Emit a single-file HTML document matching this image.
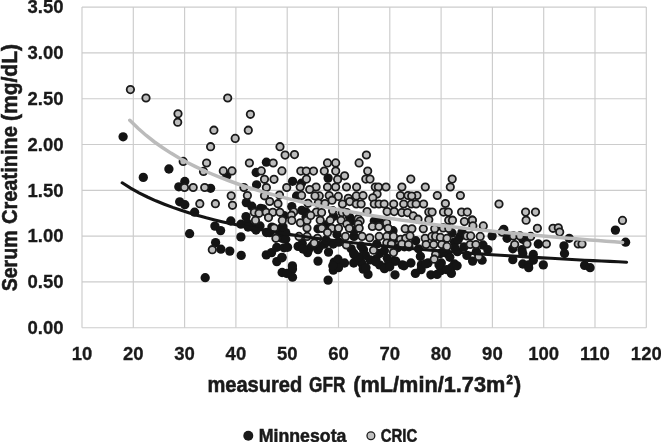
<!DOCTYPE html>
<html><head><meta charset="utf-8"><style>
html,body{margin:0;padding:0;background:#fff;}
svg{display:block;filter:blur(0.35px);}
.g{stroke:#cccccc;stroke-width:1.15;}
.t{font-family:"Liberation Sans",sans-serif;font-weight:bold;font-size:18.5px;fill:#1a1a1a;stroke:#1a1a1a;stroke-width:0.3px;}
.tl{font-family:"Liberation Sans",sans-serif;font-weight:bold;font-size:17.5px;fill:#1a1a1a;stroke:#1a1a1a;stroke-width:0.5px;}
.ti{font-family:"Liberation Sans",sans-serif;font-weight:bold;font-size:21.5px;fill:#1a1a1a;stroke:#1a1a1a;stroke-width:0.55px;}
.b circle{fill:#141414;}
.c circle{fill:#bdbdbd;stroke:#1a1a1a;stroke-width:1.8;}
</style></head><body>
<svg width="661" height="442" viewBox="0 0 661 442">
<line x1="82.0" y1="7.1" x2="82.0" y2="327.7" class="g"/>
<line x1="133.3" y1="7.1" x2="133.3" y2="327.7" class="g"/>
<line x1="184.6" y1="7.1" x2="184.6" y2="327.7" class="g"/>
<line x1="235.9" y1="7.1" x2="235.9" y2="327.7" class="g"/>
<line x1="287.2" y1="7.1" x2="287.2" y2="327.7" class="g"/>
<line x1="338.5" y1="7.1" x2="338.5" y2="327.7" class="g"/>
<line x1="389.8" y1="7.1" x2="389.8" y2="327.7" class="g"/>
<line x1="441.1" y1="7.1" x2="441.1" y2="327.7" class="g"/>
<line x1="492.4" y1="7.1" x2="492.4" y2="327.7" class="g"/>
<line x1="543.7" y1="7.1" x2="543.7" y2="327.7" class="g"/>
<line x1="595.0" y1="7.1" x2="595.0" y2="327.7" class="g"/>
<line x1="646.3" y1="7.1" x2="646.3" y2="327.7" class="g"/>
<line x1="82.0" y1="327.7" x2="646.3" y2="327.7" class="g"/>
<line x1="82.0" y1="281.9" x2="646.3" y2="281.9" class="g"/>
<line x1="82.0" y1="236.1" x2="646.3" y2="236.1" class="g"/>
<line x1="82.0" y1="190.3" x2="646.3" y2="190.3" class="g"/>
<line x1="82.0" y1="144.5" x2="646.3" y2="144.5" class="g"/>
<line x1="82.0" y1="98.7" x2="646.3" y2="98.7" class="g"/>
<line x1="82.0" y1="52.9" x2="646.3" y2="52.9" class="g"/>
<line x1="82.0" y1="7.1" x2="646.3" y2="7.1" class="g"/>
<text x="63.5" y="334.0" class="t" text-anchor="end">0.00</text>
<text x="63.5" y="288.2" class="t" text-anchor="end">0.50</text>
<text x="63.5" y="242.4" class="t" text-anchor="end">1.00</text>
<text x="63.5" y="196.6" class="t" text-anchor="end">1.50</text>
<text x="63.5" y="150.8" class="t" text-anchor="end">2.00</text>
<text x="63.5" y="105.0" class="t" text-anchor="end">2.50</text>
<text x="63.5" y="59.2" class="t" text-anchor="end">3.00</text>
<text x="63.5" y="13.4" class="t" text-anchor="end">3.50</text>
<text x="82.0" y="359.8" class="t" text-anchor="middle">10</text>
<text x="133.3" y="359.8" class="t" text-anchor="middle">20</text>
<text x="184.6" y="359.8" class="t" text-anchor="middle">30</text>
<text x="235.9" y="359.8" class="t" text-anchor="middle">40</text>
<text x="287.2" y="359.8" class="t" text-anchor="middle">50</text>
<text x="338.5" y="359.8" class="t" text-anchor="middle">60</text>
<text x="389.8" y="359.8" class="t" text-anchor="middle">70</text>
<text x="441.1" y="359.8" class="t" text-anchor="middle">80</text>
<text x="492.4" y="359.8" class="t" text-anchor="middle">90</text>
<text x="543.7" y="359.8" class="t" text-anchor="middle">100</text>
<text x="595.0" y="359.8" class="t" text-anchor="middle">110</text>
<text x="646.3" y="359.8" class="t" text-anchor="middle">120</text>
<g class="b"><circle cx="123.1" cy="136.8" r="4.65"/><circle cx="168.9" cy="169.0" r="4.65"/><circle cx="143.3" cy="177.4" r="4.65"/><circle cx="184.8" cy="181.5" r="4.65"/><circle cx="178.8" cy="186.8" r="4.65"/><circle cx="179.7" cy="201.8" r="4.65"/><circle cx="184.8" cy="204.7" r="4.65"/><circle cx="266.4" cy="162.2" r="4.65"/><circle cx="256.2" cy="172.5" r="4.65"/><circle cx="226.8" cy="175.7" r="4.65"/><circle cx="256.6" cy="184.8" r="4.65"/><circle cx="210.6" cy="188.3" r="4.65"/><circle cx="246.3" cy="202.6" r="4.65"/><circle cx="251.8" cy="206.2" r="4.65"/><circle cx="262.9" cy="208.9" r="4.65"/><circle cx="292.6" cy="181.3" r="4.65"/><circle cx="328.1" cy="178.1" r="4.65"/><circle cx="301.5" cy="183.2" r="4.65"/><circle cx="296.6" cy="196.0" r="4.65"/><circle cx="194.6" cy="212.2" r="4.65"/><circle cx="214.9" cy="226.1" r="4.65"/><circle cx="220.6" cy="230.6" r="4.65"/><circle cx="189.6" cy="233.7" r="4.65"/><circle cx="230.8" cy="221.0" r="4.65"/><circle cx="240.9" cy="224.2" r="4.65"/><circle cx="246.0" cy="216.6" r="4.65"/><circle cx="240.9" cy="236.9" r="4.65"/><circle cx="215.6" cy="242.6" r="4.65"/><circle cx="247.2" cy="223.0" r="4.65"/><circle cx="291.8" cy="206.6" r="4.65"/><circle cx="260.5" cy="208.5" r="4.65"/><circle cx="301.8" cy="210.4" r="4.65"/><circle cx="284.2" cy="215.7" r="4.65"/><circle cx="252.9" cy="227.1" r="4.65"/><circle cx="271.9" cy="227.1" r="4.65"/><circle cx="281.4" cy="228.0" r="4.65"/><circle cx="256.0" cy="230.0" r="4.65"/><circle cx="260.0" cy="226.0" r="4.65"/><circle cx="306.0" cy="212.0" r="4.65"/><circle cx="306.0" cy="217.0" r="4.65"/><circle cx="333.5" cy="216.4" r="4.65"/><circle cx="349.7" cy="217.3" r="4.65"/><circle cx="352.5" cy="221.1" r="4.65"/><circle cx="326.0" cy="225.0" r="4.65"/><circle cx="374.3" cy="221.1" r="4.65"/><circle cx="379.0" cy="221.1" r="4.65"/><circle cx="383.0" cy="224.0" r="4.65"/><circle cx="569.2" cy="238.3" r="4.65"/><circle cx="526.0" cy="239.2" r="4.65"/><circle cx="538.3" cy="244.0" r="4.65"/><circle cx="564.0" cy="245.9" r="4.65"/><circle cx="615.4" cy="230.1" r="4.65"/><circle cx="625.6" cy="242.2" r="4.65"/><circle cx="220.9" cy="249.2" r="4.65"/><circle cx="229.8" cy="251.1" r="4.65"/><circle cx="241.2" cy="255.4" r="4.65"/><circle cx="266.3" cy="254.9" r="4.65"/><circle cx="271.6" cy="252.6" r="4.65"/><circle cx="276.8" cy="247.3" r="4.65"/><circle cx="276.8" cy="261.6" r="4.65"/><circle cx="282.0" cy="257.8" r="4.65"/><circle cx="269.7" cy="232.6" r="4.65"/><circle cx="280.1" cy="232.6" r="4.65"/><circle cx="282.0" cy="238.3" r="4.65"/><circle cx="284.0" cy="247.8" r="4.65"/><circle cx="248.0" cy="227.0" r="4.65"/><circle cx="285.7" cy="232.6" r="4.65"/><circle cx="285.7" cy="239.3" r="4.65"/><circle cx="287.6" cy="247.3" r="4.65"/><circle cx="298.1" cy="246.4" r="4.65"/><circle cx="302.3" cy="243.5" r="4.65"/><circle cx="307.6" cy="252.6" r="4.65"/><circle cx="318.0" cy="249.7" r="4.65"/><circle cx="328.5" cy="252.1" r="4.65"/><circle cx="324.7" cy="244.0" r="4.65"/><circle cx="333.2" cy="244.0" r="4.65"/><circle cx="318.0" cy="261.1" r="4.65"/><circle cx="281.9" cy="257.3" r="4.65"/><circle cx="292.4" cy="265.9" r="4.65"/><circle cx="334.2" cy="262.1" r="4.65"/><circle cx="338.0" cy="259.2" r="4.65"/><circle cx="282.9" cy="226.9" r="4.65"/><circle cx="318.0" cy="228.8" r="4.65"/><circle cx="337.0" cy="234.5" r="4.65"/><circle cx="338.8" cy="242.1" r="4.65"/><circle cx="354.0" cy="236.4" r="4.65"/><circle cx="351.2" cy="248.8" r="4.65"/><circle cx="354.0" cy="254.5" r="4.65"/><circle cx="337.9" cy="261.1" r="4.65"/><circle cx="344.5" cy="263.0" r="4.65"/><circle cx="356.9" cy="259.2" r="4.65"/><circle cx="363.5" cy="249.7" r="4.65"/><circle cx="365.4" cy="255.4" r="4.65"/><circle cx="361.6" cy="263.0" r="4.65"/><circle cx="376.8" cy="244.0" r="4.65"/><circle cx="379.7" cy="253.5" r="4.65"/><circle cx="375.9" cy="259.2" r="4.65"/><circle cx="379.7" cy="264.9" r="4.65"/><circle cx="384.4" cy="250.7" r="4.65"/><circle cx="387.3" cy="258.3" r="4.65"/><circle cx="388.2" cy="264.9" r="4.65"/><circle cx="394.0" cy="261.1" r="4.65"/><circle cx="393.0" cy="230.7" r="4.65"/><circle cx="354.0" cy="230.7" r="4.65"/><circle cx="415.7" cy="240.7" r="4.65"/><circle cx="395.7" cy="261.1" r="4.65"/><circle cx="402.4" cy="264.9" r="4.65"/><circle cx="410.9" cy="263.0" r="4.65"/><circle cx="418.5" cy="248.8" r="4.65"/><circle cx="420.4" cy="256.4" r="4.65"/><circle cx="421.4" cy="264.9" r="4.65"/><circle cx="428.0" cy="263.0" r="4.65"/><circle cx="440.4" cy="253.5" r="4.65"/><circle cx="441.3" cy="263.0" r="4.65"/><circle cx="447.0" cy="253.5" r="4.65"/><circle cx="409.0" cy="246.8" r="4.65"/><circle cx="404.3" cy="246.8" r="4.65"/><circle cx="397.6" cy="247.8" r="4.65"/><circle cx="392.9" cy="240.2" r="4.65"/><circle cx="492.1" cy="235.9" r="4.65"/><circle cx="460.2" cy="236.4" r="4.65"/><circle cx="454.5" cy="242.1" r="4.65"/><circle cx="464.0" cy="246.9" r="4.65"/><circle cx="483.0" cy="245.0" r="4.65"/><circle cx="487.8" cy="249.7" r="4.65"/><circle cx="466.9" cy="255.4" r="4.65"/><circle cx="472.6" cy="261.1" r="4.65"/><circle cx="482.1" cy="260.2" r="4.65"/><circle cx="454.5" cy="264.0" r="4.65"/><circle cx="449.8" cy="257.3" r="4.65"/><circle cx="457.4" cy="251.6" r="4.65"/><circle cx="476.4" cy="251.6" r="4.65"/><circle cx="503.8" cy="229.3" r="4.65"/><circle cx="507.1" cy="238.3" r="4.65"/><circle cx="522.8" cy="239.3" r="4.65"/><circle cx="512.8" cy="248.8" r="4.65"/><circle cx="521.9" cy="249.7" r="4.65"/><circle cx="522.8" cy="253.5" r="4.65"/><circle cx="533.3" cy="254.5" r="4.65"/><circle cx="512.8" cy="259.7" r="4.65"/><circle cx="533.3" cy="260.2" r="4.65"/><circle cx="522.8" cy="264.0" r="4.65"/><circle cx="528.5" cy="264.9" r="4.65"/><circle cx="543.3" cy="264.9" r="4.65"/><circle cx="564.5" cy="253.5" r="4.65"/><circle cx="584.6" cy="265.4" r="4.65"/><circle cx="590.1" cy="267.7" r="4.65"/><circle cx="205.2" cy="277.7" r="4.65"/><circle cx="282.1" cy="272.5" r="4.65"/><circle cx="292.5" cy="269.1" r="4.65"/><circle cx="292.5" cy="277.2" r="4.65"/><circle cx="286.8" cy="273.4" r="4.65"/><circle cx="333.3" cy="270.1" r="4.65"/><circle cx="338.5" cy="267.7" r="4.65"/><circle cx="332.8" cy="265.8" r="4.65"/><circle cx="353.7" cy="263.0" r="4.65"/><circle cx="328.1" cy="280.1" r="4.65"/><circle cx="363.2" cy="269.1" r="4.65"/><circle cx="368.0" cy="274.4" r="4.65"/><circle cx="384.5" cy="268.7" r="4.65"/><circle cx="389.7" cy="266.8" r="4.65"/><circle cx="395.0" cy="274.8" r="4.65"/><circle cx="404.0" cy="265.8" r="4.65"/><circle cx="415.4" cy="273.4" r="4.65"/><circle cx="421.1" cy="269.6" r="4.65"/><circle cx="366.0" cy="267.7" r="4.65"/><circle cx="430.9" cy="274.8" r="4.65"/><circle cx="437.1" cy="274.4" r="4.65"/><circle cx="440.9" cy="270.6" r="4.65"/><circle cx="439.0" cy="264.9" r="4.65"/><circle cx="451.4" cy="273.4" r="4.65"/><circle cx="451.4" cy="267.7" r="4.65"/><circle cx="457.1" cy="265.8" r="4.65"/><circle cx="446.6" cy="269.6" r="4.65"/><circle cx="425.7" cy="263.9" r="4.65"/><circle cx="528.7" cy="267.7" r="4.65"/><circle cx="309.0" cy="249.0" r="4.65"/><circle cx="320.0" cy="246.0" r="4.65"/><circle cx="303.0" cy="249.0" r="4.65"/><circle cx="326.0" cy="240.0" r="4.65"/><circle cx="312.0" cy="246.0" r="4.65"/><circle cx="452.0" cy="233.0" r="4.65"/><circle cx="458.0" cy="240.0" r="4.65"/><circle cx="455.0" cy="248.0" r="4.65"/><circle cx="462.0" cy="232.0" r="4.65"/><circle cx="444.0" cy="245.0" r="4.65"/><circle cx="443.0" cy="252.0" r="4.65"/><circle cx="358.5" cy="257.0" r="4.65"/><circle cx="370.0" cy="259.9" r="4.65"/><circle cx="353.8" cy="253.2" r="4.65"/><circle cx="375.6" cy="261.8" r="4.65"/><circle cx="361.0" cy="246.0" r="4.65"/><circle cx="266.5" cy="232.5" r="4.65"/></g>
<g class="c"><circle cx="130.4" cy="89.6" r="3.7"/><circle cx="146.0" cy="98.0" r="3.7"/><circle cx="178.0" cy="113.8" r="3.7"/><circle cx="177.7" cy="122.2" r="3.7"/><circle cx="227.7" cy="98.0" r="3.7"/><circle cx="250.4" cy="114.3" r="3.7"/><circle cx="213.9" cy="130.2" r="3.7"/><circle cx="248.3" cy="130.2" r="3.7"/><circle cx="235.2" cy="138.4" r="3.7"/><circle cx="183.2" cy="161.4" r="3.7"/><circle cx="184.5" cy="187.5" r="3.7"/><circle cx="193.2" cy="187.5" r="3.7"/><circle cx="210.6" cy="146.7" r="3.7"/><circle cx="280.0" cy="146.7" r="3.7"/><circle cx="285.1" cy="155.1" r="3.7"/><circle cx="206.6" cy="163.0" r="3.7"/><circle cx="249.4" cy="163.0" r="3.7"/><circle cx="273.2" cy="163.0" r="3.7"/><circle cx="203.5" cy="171.4" r="3.7"/><circle cx="223.3" cy="170.9" r="3.7"/><circle cx="232.0" cy="170.9" r="3.7"/><circle cx="261.3" cy="170.9" r="3.7"/><circle cx="281.9" cy="170.9" r="3.7"/><circle cx="264.5" cy="179.3" r="3.7"/><circle cx="274.0" cy="179.3" r="3.7"/><circle cx="204.7" cy="187.5" r="3.7"/><circle cx="243.9" cy="187.5" r="3.7"/><circle cx="266.4" cy="187.5" r="3.7"/><circle cx="286.7" cy="187.5" r="3.7"/><circle cx="231.2" cy="195.8" r="3.7"/><circle cx="247.4" cy="195.5" r="3.7"/><circle cx="264.5" cy="195.8" r="3.7"/><circle cx="279.5" cy="195.1" r="3.7"/><circle cx="199.8" cy="203.7" r="3.7"/><circle cx="215.4" cy="203.7" r="3.7"/><circle cx="232.5" cy="205.3" r="3.7"/><circle cx="269.7" cy="201.5" r="3.7"/><circle cx="278.0" cy="203.7" r="3.7"/><circle cx="294.5" cy="154.6" r="3.7"/><circle cx="327.5" cy="162.9" r="3.7"/><circle cx="335.7" cy="162.9" r="3.7"/><circle cx="359.1" cy="162.9" r="3.7"/><circle cx="300.8" cy="171.1" r="3.7"/><circle cx="306.3" cy="171.1" r="3.7"/><circle cx="313.5" cy="171.1" r="3.7"/><circle cx="324.3" cy="171.1" r="3.7"/><circle cx="335.7" cy="171.1" r="3.7"/><circle cx="306.5" cy="179.1" r="3.7"/><circle cx="337.6" cy="179.4" r="3.7"/><circle cx="344.6" cy="175.8" r="3.7"/><circle cx="300.2" cy="187.0" r="3.7"/><circle cx="316.1" cy="187.0" r="3.7"/><circle cx="327.5" cy="187.0" r="3.7"/><circle cx="335.7" cy="187.0" r="3.7"/><circle cx="346.5" cy="187.0" r="3.7"/><circle cx="356.6" cy="187.0" r="3.7"/><circle cx="309.7" cy="189.5" r="3.7"/><circle cx="301.6" cy="195.4" r="3.7"/><circle cx="366.4" cy="155.0" r="3.7"/><circle cx="367.7" cy="171.1" r="3.7"/><circle cx="365.8" cy="179.1" r="3.7"/><circle cx="370.0" cy="179.1" r="3.7"/><circle cx="410.8" cy="179.1" r="3.7"/><circle cx="375.3" cy="187.0" r="3.7"/><circle cx="378.4" cy="187.0" r="3.7"/><circle cx="386.0" cy="187.0" r="3.7"/><circle cx="401.9" cy="187.0" r="3.7"/><circle cx="425.3" cy="187.0" r="3.7"/><circle cx="452.2" cy="179.1" r="3.7"/><circle cx="450.3" cy="187.0" r="3.7"/><circle cx="308.0" cy="203.3" r="3.7"/><circle cx="254.3" cy="212.3" r="3.7"/><circle cx="259.0" cy="213.3" r="3.7"/><circle cx="266.2" cy="212.3" r="3.7"/><circle cx="272.8" cy="212.3" r="3.7"/><circle cx="279.9" cy="212.3" r="3.7"/><circle cx="268.5" cy="217.6" r="3.7"/><circle cx="293.7" cy="211.9" r="3.7"/><circle cx="291.4" cy="215.2" r="3.7"/><circle cx="255.5" cy="220.4" r="3.7"/><circle cx="282.3" cy="220.4" r="3.7"/><circle cx="291.8" cy="220.4" r="3.7"/><circle cx="300.4" cy="222.8" r="3.7"/><circle cx="307.0" cy="220.4" r="3.7"/><circle cx="274.2" cy="228.0" r="3.7"/><circle cx="307.0" cy="228.0" r="3.7"/><circle cx="319.3" cy="195.9" r="3.7"/><circle cx="315.0" cy="195.9" r="3.7"/><circle cx="329.2" cy="195.5" r="3.7"/><circle cx="338.3" cy="196.4" r="3.7"/><circle cx="348.3" cy="198.3" r="3.7"/><circle cx="356.3" cy="195.9" r="3.7"/><circle cx="363.0" cy="195.5" r="3.7"/><circle cx="332.1" cy="200.2" r="3.7"/><circle cx="342.5" cy="204.0" r="3.7"/><circle cx="349.7" cy="201.6" r="3.7"/><circle cx="356.3" cy="204.0" r="3.7"/><circle cx="361.1" cy="204.0" r="3.7"/><circle cx="318.3" cy="203.1" r="3.7"/><circle cx="325.0" cy="203.5" r="3.7"/><circle cx="316.4" cy="212.1" r="3.7"/><circle cx="321.6" cy="212.6" r="3.7"/><circle cx="310.7" cy="215.4" r="3.7"/><circle cx="332.6" cy="210.7" r="3.7"/><circle cx="342.1" cy="212.6" r="3.7"/><circle cx="346.8" cy="212.6" r="3.7"/><circle cx="320.2" cy="220.2" r="3.7"/><circle cx="330.2" cy="220.2" r="3.7"/><circle cx="341.1" cy="220.2" r="3.7"/><circle cx="358.2" cy="218.7" r="3.7"/><circle cx="360.1" cy="221.1" r="3.7"/><circle cx="346.8" cy="224.0" r="3.7"/><circle cx="358.2" cy="224.0" r="3.7"/><circle cx="377.1" cy="194.0" r="3.7"/><circle cx="372.8" cy="197.8" r="3.7"/><circle cx="400.4" cy="195.5" r="3.7"/><circle cx="408.0" cy="195.5" r="3.7"/><circle cx="417.0" cy="195.5" r="3.7"/><circle cx="374.3" cy="204.0" r="3.7"/><circle cx="379.0" cy="204.0" r="3.7"/><circle cx="384.2" cy="204.0" r="3.7"/><circle cx="393.7" cy="204.0" r="3.7"/><circle cx="403.7" cy="204.0" r="3.7"/><circle cx="411.3" cy="204.0" r="3.7"/><circle cx="416.1" cy="204.0" r="3.7"/><circle cx="367.1" cy="211.6" r="3.7"/><circle cx="387.1" cy="211.6" r="3.7"/><circle cx="394.2" cy="211.6" r="3.7"/><circle cx="401.8" cy="212.6" r="3.7"/><circle cx="407.5" cy="212.6" r="3.7"/><circle cx="413.2" cy="215.9" r="3.7"/><circle cx="372.4" cy="226.5" r="3.7"/><circle cx="379.0" cy="226.5" r="3.7"/><circle cx="386.6" cy="223.0" r="3.7"/><circle cx="437.3" cy="195.5" r="3.7"/><circle cx="460.4" cy="195.5" r="3.7"/><circle cx="423.6" cy="204.0" r="3.7"/><circle cx="445.4" cy="203.5" r="3.7"/><circle cx="428.8" cy="212.1" r="3.7"/><circle cx="432.1" cy="212.1" r="3.7"/><circle cx="443.5" cy="212.1" r="3.7"/><circle cx="448.3" cy="212.1" r="3.7"/><circle cx="461.6" cy="212.1" r="3.7"/><circle cx="467.3" cy="212.1" r="3.7"/><circle cx="428.8" cy="219.7" r="3.7"/><circle cx="448.7" cy="220.2" r="3.7"/><circle cx="452.5" cy="220.2" r="3.7"/><circle cx="418.0" cy="219.2" r="3.7"/><circle cx="464.4" cy="221.6" r="3.7"/><circle cx="472.0" cy="220.2" r="3.7"/><circle cx="499.0" cy="204.0" r="3.7"/><circle cx="525.6" cy="212.1" r="3.7"/><circle cx="526.1" cy="220.2" r="3.7"/><circle cx="472.4" cy="220.2" r="3.7"/><circle cx="483.3" cy="225.9" r="3.7"/><circle cx="472.9" cy="225.9" r="3.7"/><circle cx="535.5" cy="212.1" r="3.7"/><circle cx="537.4" cy="228.3" r="3.7"/><circle cx="553.0" cy="228.3" r="3.7"/><circle cx="558.3" cy="227.8" r="3.7"/><circle cx="559.7" cy="232.1" r="3.7"/><circle cx="530.7" cy="236.4" r="3.7"/><circle cx="546.4" cy="244.0" r="3.7"/><circle cx="527.0" cy="244.0" r="3.7"/><circle cx="578.2" cy="244.0" r="3.7"/><circle cx="582.0" cy="244.0" r="3.7"/><circle cx="622.5" cy="220.4" r="3.7"/><circle cx="212.3" cy="249.7" r="3.7"/><circle cx="275.9" cy="238.3" r="3.7"/><circle cx="321.8" cy="228.3" r="3.7"/><circle cx="331.8" cy="228.3" r="3.7"/><circle cx="338.5" cy="228.3" r="3.7"/><circle cx="327.5" cy="232.6" r="3.7"/><circle cx="299.0" cy="236.4" r="3.7"/><circle cx="307.1" cy="236.4" r="3.7"/><circle cx="317.5" cy="238.3" r="3.7"/><circle cx="314.2" cy="243.1" r="3.7"/><circle cx="349.3" cy="228.3" r="3.7"/><circle cx="359.2" cy="228.3" r="3.7"/><circle cx="388.2" cy="228.3" r="3.7"/><circle cx="345.5" cy="236.4" r="3.7"/><circle cx="362.1" cy="236.4" r="3.7"/><circle cx="369.7" cy="237.8" r="3.7"/><circle cx="379.2" cy="236.4" r="3.7"/><circle cx="386.8" cy="236.4" r="3.7"/><circle cx="393.5" cy="236.4" r="3.7"/><circle cx="346.4" cy="245.0" r="3.7"/><circle cx="373.5" cy="250.2" r="3.7"/><circle cx="386.8" cy="243.1" r="3.7"/><circle cx="391.6" cy="244.0" r="3.7"/><circle cx="393.5" cy="252.6" r="3.7"/><circle cx="405.2" cy="228.8" r="3.7"/><circle cx="411.9" cy="228.8" r="3.7"/><circle cx="423.3" cy="228.8" r="3.7"/><circle cx="434.7" cy="228.8" r="3.7"/><circle cx="443.2" cy="227.9" r="3.7"/><circle cx="400.5" cy="239.3" r="3.7"/><circle cx="405.7" cy="238.3" r="3.7"/><circle cx="410.0" cy="235.9" r="3.7"/><circle cx="425.2" cy="238.3" r="3.7"/><circle cx="431.8" cy="236.4" r="3.7"/><circle cx="435.6" cy="236.4" r="3.7"/><circle cx="440.4" cy="237.4" r="3.7"/><circle cx="447.0" cy="238.3" r="3.7"/><circle cx="401.9" cy="244.0" r="3.7"/><circle cx="408.5" cy="244.5" r="3.7"/><circle cx="426.1" cy="244.5" r="3.7"/><circle cx="433.7" cy="244.5" r="3.7"/><circle cx="441.8" cy="244.5" r="3.7"/><circle cx="447.0" cy="246.4" r="3.7"/><circle cx="391.4" cy="244.0" r="3.7"/><circle cx="435.6" cy="254.5" r="3.7"/><circle cx="434.2" cy="259.2" r="3.7"/><circle cx="448.8" cy="228.5" r="3.7"/><circle cx="466.9" cy="235.9" r="3.7"/><circle cx="470.7" cy="235.9" r="3.7"/><circle cx="480.2" cy="236.4" r="3.7"/><circle cx="470.2" cy="244.5" r="3.7"/><circle cx="475.9" cy="244.5" r="3.7"/><circle cx="478.7" cy="256.4" r="3.7"/><circle cx="502.0" cy="232.1" r="3.7"/><circle cx="513.3" cy="235.9" r="3.7"/><circle cx="520.0" cy="235.9" r="3.7"/><circle cx="514.7" cy="244.5" r="3.7"/><circle cx="411.7" cy="196.0" r="3.7"/></g>
<path d="M122.2,182.8 L130.6,188.1 L139.0,192.8 L147.4,197.0 L155.8,200.8 L164.3,204.2 L172.7,207.4 L181.1,210.3 L189.5,213.0 L197.9,215.5 L206.3,217.8 L214.7,219.9 L223.1,221.9 L231.5,223.8 L239.9,225.6 L248.3,227.3 L256.7,228.9 L265.1,230.4 L273.5,231.9 L281.9,233.3 L290.3,234.6 L298.8,235.8 L307.2,237.0 L315.6,238.2 L324.0,239.3 L332.4,240.3 L340.8,241.3 L349.2,242.3 L357.6,243.2 L366.0,244.1 L374.4,245.0 L382.8,245.9 L391.2,246.7 L399.6,247.5 L408.0,248.2 L416.4,249.0 L424.8,249.7 L433.3,250.4 L441.7,251.0 L450.1,251.7 L458.5,252.3 L466.9,253.0 L475.3,253.6 L483.7,254.1 L492.1,254.7 L500.5,255.3 L508.9,255.8 L517.3,256.3 L525.7,256.9 L534.1,257.4 L542.5,257.9 L550.9,258.3 L559.3,258.8 L567.8,259.3 L576.2,259.7 L584.6,260.2 L593.0,260.6 L601.4,261.0 L609.8,261.4 L618.2,261.8 L626.6,262.2" fill="none" stroke="#141414" stroke-width="3.1" stroke-linecap="round"/>
<path d="M129.8,120.3 L138.0,128.3 L146.2,135.5 L154.5,142.0 L162.7,147.8 L170.9,153.1 L179.1,158.0 L187.3,162.5 L195.5,166.6 L203.7,170.5 L211.9,174.0 L220.2,177.4 L228.4,180.5 L236.6,183.5 L244.8,186.3 L253.0,188.9 L261.2,191.4 L269.4,193.7 L277.6,195.9 L285.9,198.1 L294.1,200.1 L302.3,202.0 L310.5,203.9 L318.7,205.6 L326.9,207.3 L335.1,209.0 L343.4,210.5 L351.6,212.0 L359.8,213.5 L368.0,214.9 L376.2,216.2 L384.4,217.5 L392.6,218.7 L400.8,220.0 L409.1,221.1 L417.3,222.3 L425.5,223.4 L433.7,224.4 L441.9,225.4 L450.1,226.4 L458.3,227.4 L466.5,228.4 L474.8,229.3 L483.0,230.2 L491.2,231.0 L499.4,231.9 L507.6,232.7 L515.8,233.5 L524.0,234.3 L532.3,235.1 L540.5,235.8 L548.7,236.5 L556.9,237.2 L565.1,237.9 L573.3,238.6 L581.5,239.3 L589.7,239.9 L598.0,240.6 L606.2,241.2 L614.4,241.8 L622.6,242.4" fill="none" stroke="#bbbbbb" stroke-width="3.5" stroke-linecap="round"/>
<text x="207.4" y="392" class="ti" textLength="94.9" lengthAdjust="spacingAndGlyphs">measured</text>
<text x="309" y="392" class="ti" textLength="36.4" lengthAdjust="spacingAndGlyphs">GFR</text>
<text x="353.3" y="392" class="ti" textLength="152" lengthAdjust="spacingAndGlyphs">(mL/min/1.73m</text>
<text x="506.5" y="383.6" class="ti" style="font-size:13px;stroke-width:0.8px" textLength="6.3" lengthAdjust="spacingAndGlyphs">2</text>
<text x="514" y="392" class="ti">)</text>
<g transform="translate(17.4,0) rotate(-90)">
<text x="-291.3" y="0" class="ti" textLength="60.8" lengthAdjust="spacingAndGlyphs">Serum</text>
<text x="-224.1" y="0" class="ti" textLength="98.1" lengthAdjust="spacingAndGlyphs">Creatinine</text>
<text x="-121" y="0" class="ti" textLength="77" lengthAdjust="spacingAndGlyphs">(mg/dL)</text>
</g>
<circle cx="248.3" cy="435.7" r="5" fill="#1a1a1a"/>
<text x="258.8" y="442" class="tl" textLength="87.6" lengthAdjust="spacingAndGlyphs">Minnesota</text>
<circle cx="370.9" cy="435.7" r="3.9" fill="#c0c0c0" stroke="#1e1e1e" stroke-width="1.3"/>
<text x="380.8" y="442" class="tl" textLength="36.5" lengthAdjust="spacingAndGlyphs">CRIC</text>
</svg>
</body></html>
